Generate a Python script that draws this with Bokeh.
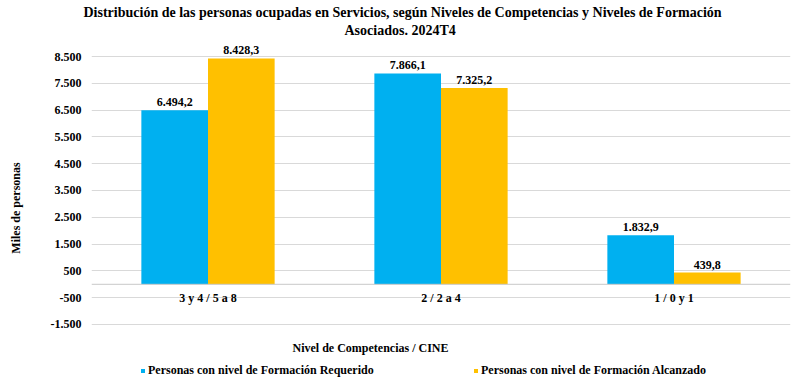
from bokeh.plotting import figure
from bokeh.models import (FactorRange, Range1d, FixedTicker, Span, Legend, LegendItem,
                          ColumnDataSource, Title, Label)
from bokeh.transform import dodge
from bokeh.core.properties import value
from bokeh.embed import file_html
from bokeh.resources import INLINE

categories = ["3 y 4 / 5 a 8", "2 / 2 a 4", "1 / 0 y 1"]
requerido = [6494.2, 7866.1, 1832.9]
alcanzado = [8428.3, 7325.2, 439.8]
series_names = ["Personas con nivel de Formación Requerido",
                "Personas con nivel de Formación Alcanzado"]
y_ticks = [-1500, -500, 500, 1500, 2500, 3500, 4500, 5500, 6500, 7500, 8500]
title_lines = ["Distribución de las personas ocupadas en Servicios, según Niveles de Competencias y Niveles de Formación",
               "Asociados. 2024T4"]
x_title = "Nivel de Competencias / CINE"
y_title = "Miles de personas"

FONT = "Liberation Serif"
BLUE = "#00B0F0"
GOLD = "#FFC000"


def fmt_int(v):
    s = f"{abs(int(v)):,}".replace(",", ".")
    return ("-" if v < 0 else "") + s


def fmt_dec(v):
    s = f"{v:,.1f}"
    return s.replace(",", "X").replace(".", ",").replace("X", ".")


src = ColumnDataSource(dict(
    cat=categories,
    req=requerido,
    alc=alcanzado,
    req_lbl=[fmt_dec(v) for v in requerido],
    alc_lbl=[fmt_dec(v) for v in alcanzado],
    zero=[0] * len(categories),
))

p = figure(x_range=FactorRange(*categories, range_padding=0), y_range=Range1d(-3515, 9209),
           width=792, height=378, output_backend="svg", toolbar_location=None,
           min_border_left=91, min_border_right=2, min_border_top=37, min_border_bottom=0)
p.outline_line_color = None
p.background_fill_color = "white"

# two title lines (first added sits closest to the plot)
title_offsets = [-8, 253]
title_standoffs = [1, 0]
for i in (1, 0):
    p.add_layout(Title(text=title_lines[i], align="left", offset=title_offsets[i],
                       standoff=title_standoffs[i],
                       text_font=FONT, text_font_size="14px", text_font_style="bold",
                       text_color="#000000"), "above")

w = 0.286
r1 = p.vbar(x=dodge("cat", -w / 2, range=p.x_range), top="req", width=w, source=src,
            color=BLUE, line_color=None)
r2 = p.vbar(x=dodge("cat", w / 2, range=p.x_range), top="alc", width=w, source=src,
            color=GOLD, line_color=None)

p.text(x=dodge("cat", -w / 2, range=p.x_range), y="req", text="req_lbl", source=src,
       text_font=value(FONT), text_font_size="12px", text_font_style="bold",
       text_align="center", text_baseline="bottom", y_offset=-4, text_color="#000000")
p.text(x=dodge("cat", w / 2, range=p.x_range), y="alc", text="alc_lbl", source=src,
       text_font=value(FONT), text_font_size="12px", text_font_style="bold",
       text_align="center", text_baseline="bottom", y_offset=-4, text_color="#000000")
# category labels at the zero line
p.text(x="cat", y="zero", text="cat", source=src,
       text_font=value(FONT), text_font_size="12px", text_font_style="bold",
       text_align="center", text_baseline="top", y_offset=7, text_color="#000000")

p.add_layout(Span(location=0, dimension="width", line_color="#c8c8c8", line_width=1))

p.xaxis.visible = False
p.xgrid.grid_line_color = None
p.ygrid.grid_line_color = "#d9d9d9"
p.ygrid.ticker = FixedTicker(ticks=y_ticks)

ya = p.yaxis[0]
ya.ticker = FixedTicker(ticks=y_ticks)
ya.major_label_overrides = {t: fmt_int(t) for t in y_ticks}
ya.axis_line_color = None
ya.major_tick_line_color = None
ya.minor_tick_line_color = None
ya.major_tick_out = 0
ya.major_label_standoff = 10
ya.major_label_text_font = FONT
ya.major_label_text_font_size = "12px"
ya.major_label_text_font_style = "bold"
ya.major_label_text_color = "#000000"
ya.axis_label = y_title
ya.axis_label_text_font = FONT
ya.axis_label_text_font_size = "12px"
ya.axis_label_text_font_style = "bold"
ya.axis_label_text_color = "#000000"
ya.axis_label_standoff = 25

p.add_layout(Label(x=279, y=31, x_units="screen", y_units="screen", text=x_title,
                   text_font=FONT, text_font_size="12px", text_font_style="bold",
                   text_align="center", text_baseline="middle", text_color="#000000"))

legend = Legend(items=[LegendItem(label=series_names[0], renderers=[r1]),
                       LegendItem(label=series_names[1], renderers=[r2])],
                location=(49, 0), orientation="horizontal",
                padding=0, spacing=0, margin=0, glyph_width=5, glyph_height=5,
                label_standoff=3, label_width=325, label_height=12,
                border_line_color=None, background_fill_alpha=0,
                label_text_font=FONT, label_text_font_size="12px", label_text_font_style="bold",
                label_text_color="#000000")
p.add_layout(legend)

open("out.html", "w").write(file_html(p, INLINE))
